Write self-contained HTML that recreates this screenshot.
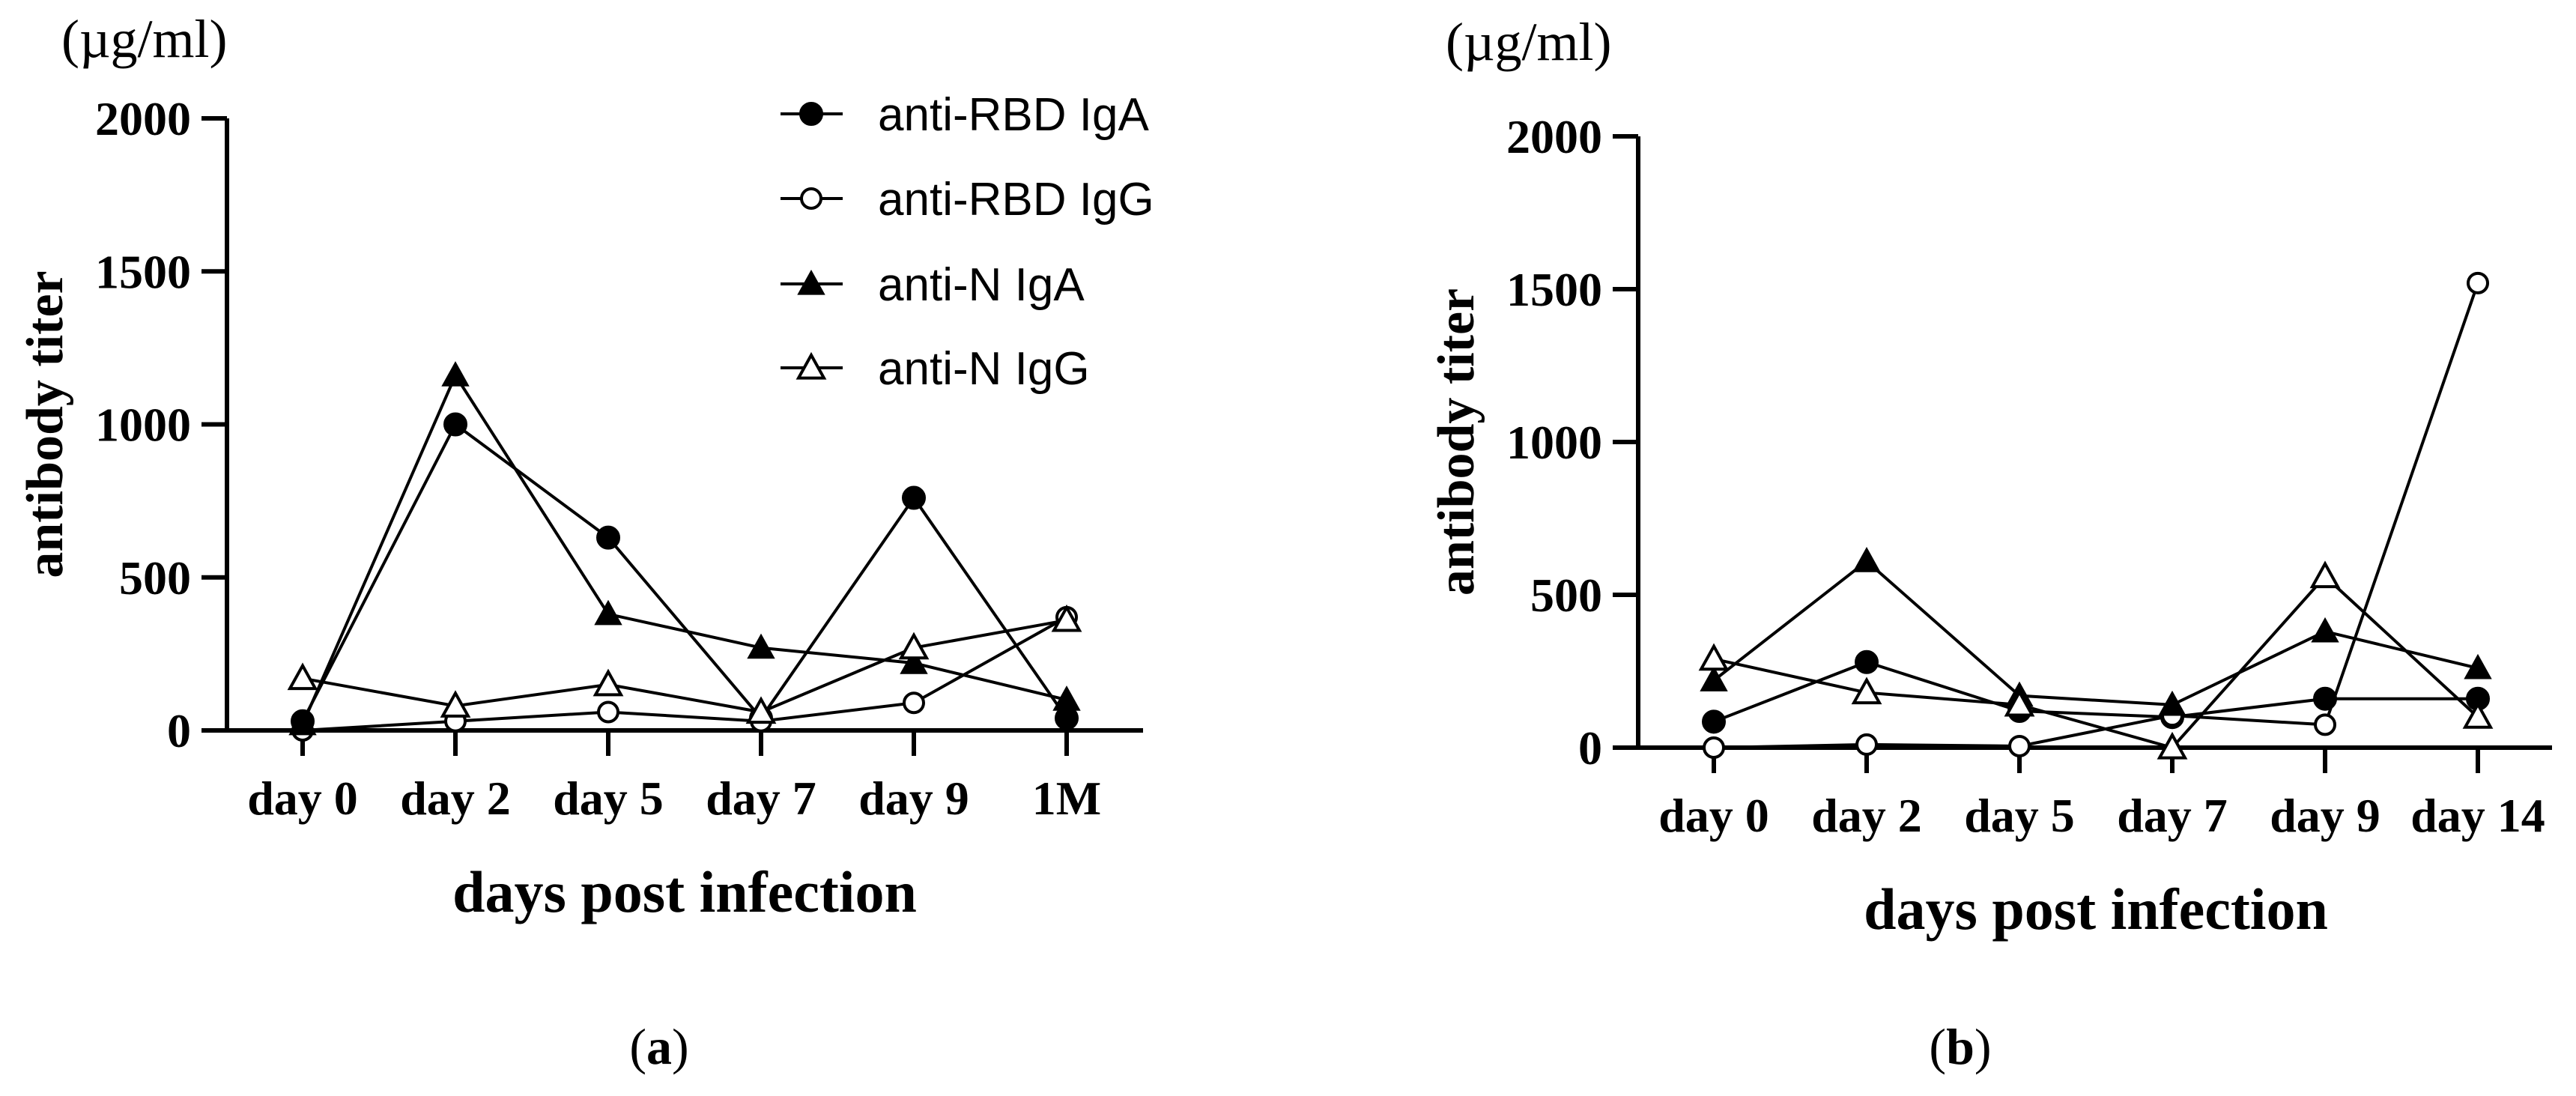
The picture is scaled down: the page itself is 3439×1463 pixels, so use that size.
<!DOCTYPE html>
<html><head><meta charset="utf-8"><style>
html,body{margin:0;padding:0;background:#fff;}
svg{display:block;}
.tk{font-family:"Liberation Serif",serif;font-weight:bold;font-size:64px;fill:#000;}
.ttl{font-family:"Liberation Serif",serif;font-weight:bold;font-size:70px;fill:#000;}
.xttl{font-family:"Liberation Serif",serif;font-weight:bold;font-size:78px;fill:#000;}
.unit{font-family:"Liberation Serif",serif;font-size:72px;fill:#000;}
.lg{font-family:"Liberation Sans",sans-serif;font-size:62px;fill:#000;}
.cap{font-family:"Liberation Serif",serif;font-size:68px;fill:#000;}
</style></head><body>
<svg id="chart" width="3439" height="1463" viewBox="0 0 3439 1463" xmlns="http://www.w3.org/2000/svg">
<g id="pa"></g>
<g id="pb"></g>
<g id="legend"></g>
</svg>
<script>
const NS="http://www.w3.org/2000/svg";
const seriesNames=["anti-RBD IgA","anti-RBD IgG","anti-N IgA","anti-N IgG"];
const seriesKeys=["rbd-iga","rbd-igg","n-iga","n-igg"];
const yTicks=[0,500,1000,1500,2000];
const catsA=["day 0","day 2","day 5","day 7","day 9","1M"];
const rbdIgaA=[30,1000,630,40,760,40];
const rbdIggA=[0,30,60,30,90,370];
const nIgaA=[20,1160,380,270,220,100];
const nIggA=[170,80,150,60,270,360];
const catsB=["day 0","day 2","day 5","day 7","day 9","day 14"];
const rbdIgaB=[85,280,120,100,160,160];
const rbdIggB=[0,10,5,105,75,1520];
const nIgaB=[220,610,170,140,380,260];
const nIggB=[290,180,140,0,560,100];

function el(tag,attrs,parent,text){const e=document.createElementNS(NS,tag);for(const k in attrs)e.setAttribute(k,attrs[k]);if(text!==undefined)e.textContent=text;parent.appendChild(e);return e;}

function marker(g,kind,x,y){
  let m;
  if(kind===0||kind===1){
    m=el("circle",{cx:x,cy:y,r:kind===0?15:13,fill:kind===0?"#000":"#fff",stroke:"#000","stroke-width":kind===0?2:4},g);
  } else {
    const s=17;
    m=el("polygon",{points:`${x},${y-s} ${x-s},${y+s*0.8} ${x+s},${y+s*0.8}`,fill:kind===2?"#000":"#fff",stroke:"#000","stroke-width":kind===2?2:4,"stroke-linejoin":"miter"},g);
  }
  return m;
}

function drawPanel(g,o){
  const yS=v=>o.y0-(v/2000)*(o.y0-o.y2000);
  const xS=i=>o.x0+i*o.dx;
  const ax=el("path",{d:`M${o.ax},${o.y2000} V${o.y0} M${o.ax-34},${o.y0} H${o.xEnd}`,stroke:"#000","stroke-width":6,fill:"none"},g);
  
  
  yTicks.forEach(v=>{
    const t=el("line",{x1:o.ax-34,x2:o.ax,y1:yS(v),y2:yS(v),stroke:"#000","stroke-width":6},g);
    
    
    const l=el("text",{x:o.ax-48,y:yS(v)+22,"text-anchor":"end",class:"tk"},g,String(v));
    
    
  });
  o.cats.forEach((c,i)=>{
    const t=el("line",{x1:xS(i),x2:xS(i),y1:o.y0,y2:o.y0+34,stroke:"#000","stroke-width":6},g);
    
    
    const l=el("text",{x:xS(i),y:o.y0+112,"text-anchor":"middle",class:"tk"},g,c);
    
    
  });
  o.series.forEach((arr,k)=>{
    const sg=el("g",{},g);
    
    
    const pl=el("polyline",{points:arr.map((v,i)=>xS(i)+","+yS(v)).join(" "),fill:"none",stroke:"#000","stroke-width":4},sg);
    
    
  });
  o.series.forEach((arr,k)=>{
    arr.forEach((v,i)=>{
      const m=marker(g,k,xS(i),yS(v));
      
      
    });
  });
  const yl=el("text",{x:0,y:0,transform:`translate(${o.ax-220},${(o.y0+o.y2000)/2}) rotate(-90)`,"text-anchor":"middle",class:"ttl"},g,"antibody titer");
  
  
  const xl=el("text",{x:(o.x0+xS(5))/2,y:o.y0+242,"text-anchor":"middle",class:"xttl"},g,"days post infection");
  
  
  const u=el("text",{x:o.unitX,y:o.unitY,class:"unit"},g,"(µg/ml)");
  
  
  const cp=el("text",{x:o.capX,y:1420,"text-anchor":"middle",class:"cap"},g);
  
  
  el("tspan",{},cp,"(");
  el("tspan",{"font-weight":"bold"},cp,o.cap);
  el("tspan",{},cp,")");
}

drawPanel(document.getElementById("pa"),{ax:303,y0:975,y2000:158,x0:404,dx:204,xEnd:1526,cats:catsA,
  series:[rbdIgaA,rbdIggA,nIgaA,nIggA],unitX:82,unitY:76,capX:880,cap:"a"});
drawPanel(document.getElementById("pb"),{ax:2187,y0:998,y2000:182,x0:2288,dx:204,xEnd:3407,cats:catsB,
  series:[rbdIgaB,rbdIggB,nIgaB,nIggB],unitX:1930,unitY:80,capX:2617,cap:"b"});

const lg=document.getElementById("legend");
const rowsY=[152,265,379,491];
seriesNames.forEach((n,k)=>{
  const eg=el("g",{},lg);
  
  
  el("line",{x1:1042,x2:1125,y1:rowsY[k],y2:rowsY[k],stroke:"#000","stroke-width":4},eg);
  marker(eg,k,1083,rowsY[k]);
  el("text",{x:1172,y:rowsY[k]+22,class:"lg"},eg,n);
});
</script>
</body></html>
